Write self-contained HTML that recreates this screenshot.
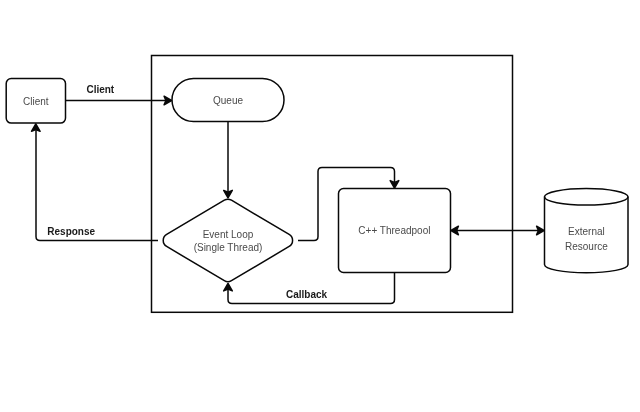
<!DOCTYPE html>
<html><head><meta charset="utf-8"><style>
html,body{margin:0;padding:0;background:#fff;width:640px;height:412px;overflow:hidden}
svg{display:block;font-family:"Liberation Sans",sans-serif;font-size:10px;will-change:transform}
</style></head><body>
<svg width="640" height="412" viewBox="0 0 640 412">
<rect width="640" height="412" fill="#fff"/>
<rect x="151.5" y="55.5" width="361" height="256.8" fill="none" stroke="#080808" stroke-width="1.5"/>
<rect x="6.2" y="78.5" width="59.3" height="44.6" rx="5" fill="none" stroke="#080808" stroke-width="1.5"/>
<rect x="172" y="78.5" width="112" height="43" rx="21.5" fill="none" stroke="#080808" stroke-width="1.5"/>
<path d="M231.47,200.22 L289.15,234.43 A7,7 0 0 1 289.15,246.47 L231.47,280.68 A7,7 0 0 1 224.33,280.68 L166.65,246.47 A7,7 0 0 1 166.65,234.43 L224.33,200.22 A7,7 0 0 1 231.47,200.22Z" fill="none" stroke="#080808" stroke-width="1.5"/>
<rect x="338.5" y="188.5" width="112" height="84" rx="5" fill="none" stroke="#080808" stroke-width="1.5"/>
<path d="M544.5,196.8 L544.5,264.5 A41.75,8.3 0 0 0 628,264.5 L628,196.8" fill="none" stroke="#080808" stroke-width="1.5"/>
<ellipse cx="586.25" cy="196.8" rx="41.75" ry="8.3" fill="none" stroke="#080808" stroke-width="1.5"/>
<path d="M66,100.5 L166,100.5" fill="none" stroke="#080808" stroke-width="1.5"/>
<path d="M171.50,100.50 L164.10,104.80 L165.90,100.50 L164.10,96.20Z" fill="#080808" stroke="#080808" stroke-width="1.5" stroke-linejoin="round"/>
<path d="M228,121.5 L228,192" fill="none" stroke="#080808" stroke-width="1.5"/>
<path d="M228.00,197.80 L223.70,190.40 L228.00,192.20 L232.30,190.40Z" fill="#080808" stroke="#080808" stroke-width="1.5" stroke-linejoin="round"/>
<path d="M298,240.5 L314,240.5 Q318,240.5 318,236.5 L318,171.5 Q318,167.5 322,167.5 L390.5,167.5 Q394.5,167.5 394.5,171.5 L394.5,182" fill="none" stroke="#080808" stroke-width="1.5"/>
<path d="M394.50,188.00 L390.20,180.60 L394.50,182.40 L398.80,180.60Z" fill="#080808" stroke="#080808" stroke-width="1.5" stroke-linejoin="round"/>
<path d="M394.5,273 L394.5,299.5 Q394.5,303.5 390.5,303.5 L232,303.5 Q228,303.5 228,299.5 L228,289" fill="none" stroke="#080808" stroke-width="1.5"/>
<path d="M228.00,283.50 L232.30,290.90 L228.00,289.10 L223.70,290.90Z" fill="#080808" stroke="#080808" stroke-width="1.5" stroke-linejoin="round"/>
<path d="M158,240.5 L40,240.5 Q36,240.5 36,236.5 L36,130" fill="none" stroke="#080808" stroke-width="1.5"/>
<path d="M35.80,123.90 L40.10,131.30 L35.80,129.50 L31.50,131.30Z" fill="#080808" stroke="#080808" stroke-width="1.5" stroke-linejoin="round"/>
<path d="M456,230.5 L538,230.5" fill="none" stroke="#080808" stroke-width="1.5"/>
<path d="M451.00,230.50 L458.40,226.20 L456.60,230.50 L458.40,234.80Z" fill="#080808" stroke="#080808" stroke-width="1.5" stroke-linejoin="round"/>
<path d="M544.00,230.50 L536.60,234.80 L538.40,230.50 L536.60,226.20Z" fill="#080808" stroke="#080808" stroke-width="1.5" stroke-linejoin="round"/>
<text x="35.8" y="104.8" text-anchor="middle" font-weight="normal" fill="#4a4a4a">Client</text>
<text x="100.3" y="92.8" text-anchor="middle" font-weight="bold" fill="#1a1a1a">Client</text>
<text x="228" y="103.7" text-anchor="middle" font-weight="normal" fill="#4a4a4a">Queue</text>
<text x="228" y="237.5" text-anchor="middle" font-weight="normal" fill="#4a4a4a">Event Loop</text>
<text x="228" y="251.3" text-anchor="middle" font-weight="normal" fill="#4a4a4a">(Single Thread)</text>
<text x="394.4" y="234.2" text-anchor="middle" font-weight="normal" fill="#4a4a4a">C++ Threadpool</text>
<text x="586.4" y="235.4" text-anchor="middle" font-weight="normal" fill="#4a4a4a">External</text>
<text x="586.4" y="249.6" text-anchor="middle" font-weight="normal" fill="#4a4a4a">Resource</text>
<text x="71.2" y="234.5" text-anchor="middle" font-weight="bold" fill="#1a1a1a">Response</text>
<text x="306.6" y="297.8" text-anchor="middle" font-weight="bold" fill="#1a1a1a">Callback</text>
</svg>
</body></html>
